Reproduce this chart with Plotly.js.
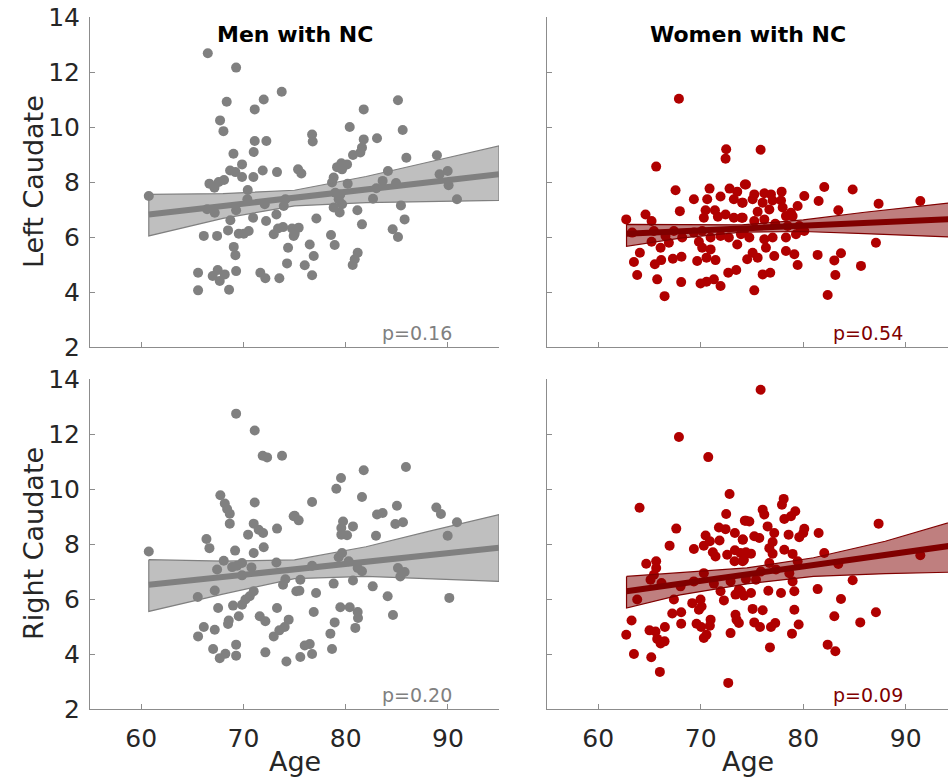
<!DOCTYPE html>
<html>
<head>
<meta charset="utf-8">
<script src="https://cdn.plot.ly/plotly-3.0.1.min.js"></script>
<style>
html, body { margin: 0; padding: 0; overflow: hidden; background: #fff; }
#chart { width: 948px; height: 778px; }
</style>
</head>
<body>
<div id="chart"></div>
<script>
// ---------- Data ----------
const panelTitles = ["Men with NC", "Women with NC"];
const rowLabels = ["Left Caudate", "Right Caudate"];
const xAxisLabel = "Age";
const pValues = ["p=0.16", "p=0.54", "p=0.20", "p=0.09"];
const xTicks = [60, 70, 80, 90];
const yTicks = [2, 4, 6, 8, 10, 12, 14];

// Men, Left Caudate
const menLeftAge = [60.75,66.52,69.29,68.37,71.99,71.11,73.75,67.72,68.05,71.11,72.25,69.03,71.01,69.87,68.70,69.22,69.87,68.11,67.59,66.68,67.17,70.98,71.89,73.29,70.43,70.39,66.45,67.20,69.29,68.73,70.95,72.09,73.23,73.95,74.11,66.13,67.43,68.50,69.55,70.04,70.52,72.22,72.97,73.39,73.88,74.76,74.92,69.06,69.22,74.37,74.27,65.57,67.00,67.49,68.18,67.69,69.29,71.66,72.15,73.52,65.57,68.60,
85.12,81.77,85.58,80.40,76.72,76.78,83.07,81.77,81.60,81.44,80.72,85.94,88.93,80.14,79.58,79.16,79.65,75.35,75.67,84.14,78.83,78.67,80.20,83.62,84.93,89.19,89.98,90.07,90.89,83.00,82.68,78.99,79.48,79.32,78.83,79.65,79.42,85.41,81.15,81.60,85.77,77.14,75.41,75.02,84.60,85.12,78.57,78.93,76.49,76.88,76.00,76.72,81.18,80.89,80.69];
const menLeftVal = [7.49,12.68,12.16,10.92,11.00,10.64,11.28,10.24,9.85,9.49,9.49,9.03,9.09,8.64,8.42,8.36,8.18,8.07,8.00,7.94,7.79,8.18,8.42,8.36,7.71,7.37,7.01,6.88,6.97,6.61,6.70,7.19,6.82,7.13,7.37,6.04,6.04,6.24,6.12,6.12,6.22,6.58,6.10,6.31,6.36,6.31,6.04,5.64,5.34,5.61,5.04,4.70,4.58,4.80,4.64,4.40,4.76,4.70,4.50,4.50,4.06,4.08,
10.97,10.64,9.89,10.00,9.73,9.47,9.59,9.55,9.25,9.07,8.98,8.88,8.97,8.64,8.68,8.54,8.46,8.46,8.31,8.40,8.16,7.98,7.94,8.04,7.96,8.28,8.40,7.88,7.37,7.77,7.39,7.61,7.55,7.37,7.07,7.19,6.89,7.15,6.97,6.46,6.64,6.67,6.34,6.12,6.28,6.00,6.07,5.71,5.73,5.31,4.97,4.61,5.43,5.19,4.98];

// Women, Left Caudate
const womenLeftAge = [67.87,72.48,72.42,65.65,67.54,70.86,69.33,70.63,71.93,72.81,73.56,74.30,73.23,74.04,64.61,62.73,65.20,67.96,70.47,70.30,71.38,71.67,72.42,73.23,73.98,63.31,65.43,66.56,67.38,68.19,69.33,70.14,70.96,71.93,72.74,73.56,74.21,65.20,66.08,66.89,69.82,70.14,70.96,64.06,63.48,65.52,66.14,67.28,68.12,69.65,70.56,71.44,63.80,65.75,68.09,69.98,70.56,71.28,71.93,72.68,73.46,66.47,74.53,
75.84,74.41,75.22,76.20,76.85,77.89,74.09,75.06,76.04,77.01,77.83,75.55,76.69,77.99,79.45,80.10,82.05,84.82,81.50,87.35,91.42,83.42,74.09,75.22,76.20,77.27,78.31,78.96,78.48,79.61,80.10,73.92,74.74,76.20,77.01,78.31,79.29,75.06,75.55,76.36,77.17,78.31,79.13,79.45,81.40,83.03,83.68,87.09,85.63,76.04,76.78,83.13,75.22,82.38,78.80];
const womenLeftVal = [11.03,9.19,8.85,8.56,7.70,7.76,7.37,7.37,7.47,7.76,7.65,7.91,7.37,7.25,6.82,6.64,6.58,6.94,6.97,6.70,6.97,6.74,6.82,6.70,6.70,6.16,6.22,6.04,6.22,5.98,6.16,6.22,5.98,6.04,5.98,5.73,6.22,5.83,5.61,5.79,5.83,5.61,5.55,5.43,5.09,5.01,5.16,5.21,5.28,5.13,5.25,5.16,4.62,4.46,4.36,4.31,4.37,4.46,4.22,4.70,4.80,3.85,5.19,
9.17,7.91,7.55,7.59,7.55,7.65,7.25,7.37,7.25,7.33,7.33,6.92,7.00,7.07,7.13,7.49,7.82,7.73,7.31,7.21,7.31,6.97,6.70,6.58,6.64,6.48,6.76,6.76,6.40,6.40,6.22,6.10,5.98,5.92,5.98,5.98,6.10,5.43,5.25,5.61,5.31,5.49,5.37,4.98,5.35,5.15,5.41,5.79,4.95,4.64,4.70,4.62,4.06,3.89,6.88];

// Men, Right Caudate
const menRightAge = [60.75,69.29,71.11,71.89,72.32,73.78,67.75,68.18,68.41,68.67,68.67,71.11,74.92,71.01,71.50,71.93,73.29,70.46,66.39,66.68,69.19,71.01,71.99,68.08,67.43,68.90,69.38,69.87,70.79,69.87,73.23,74.11,73.88,75.18,65.54,67.20,71.01,70.62,70.20,69.87,68.99,67.53,69.55,68.57,68.50,73.29,71.60,72.15,74.43,74.04,73.52,72.97,66.13,67.20,65.57,69.29,67.04,68.24,67.69,69.29,72.15,74.21,
85.90,81.77,79.55,79.09,81.60,76.72,75.02,75.41,85.02,88.87,89.32,83.07,83.62,84.86,85.61,90.89,79.75,80.72,79.58,79.58,80.14,82.97,89.98,79.65,79.32,80.30,76.72,81.18,81.60,85.12,85.77,85.35,75.57,78.83,80.72,82.65,75.48,77.11,84.11,90.14,76.88,79.48,80.40,81.18,81.21,84.63,78.93,80.95,78.51,76.00,76.49,75.57,76.72,78.67];
const menRightVal = [7.73,12.74,12.13,11.21,11.15,11.21,9.77,9.47,9.27,9.10,8.74,9.51,9.01,8.74,8.52,8.40,8.56,8.34,8.18,7.85,7.76,7.67,7.88,7.39,7.07,7.16,7.21,7.31,7.15,6.86,7.33,6.72,6.52,6.28,6.07,6.31,6.28,6.10,5.98,5.79,5.76,5.67,5.37,5.22,5.09,5.67,5.37,5.19,5.25,4.98,4.86,4.64,4.98,4.88,4.64,4.34,4.18,4.01,3.85,3.94,4.06,3.73,
10.80,10.68,10.40,10.01,9.71,9.53,9.03,8.86,9.39,9.33,9.09,9.07,9.13,8.73,8.79,8.79,8.82,8.64,8.58,8.34,8.32,8.30,8.30,7.67,7.52,7.37,7.21,7.13,7.01,7.13,6.98,6.82,6.70,6.56,6.67,6.46,6.30,6.22,6.10,6.04,5.53,5.70,5.70,5.53,5.31,5.42,5.15,4.95,4.74,4.31,4.36,3.89,4.00,4.18];

// Women, Right Caudate
const womenRightAge = [67.87,70.73,72.81,64.03,72.48,67.61,74.30,71.77,72.42,73.33,70.47,70.89,70.30,71.83,74.11,66.96,69.33,71.18,71.44,72.58,73.33,73.88,73.30,74.21,64.68,65.65,65.65,65.43,65.10,66.17,70.30,68.03,69.33,71.28,71.93,72.91,73.72,73.39,74.21,63.80,67.38,72.26,69.17,69.98,70.08,69.82,67.22,68.09,68.09,69.59,70.04,70.89,70.96,73.39,73.49,73.72,63.25,62.73,65.00,65.59,65.75,66.08,66.47,66.50,70.30,70.56,72.91,63.48,65.17,66.01,72.68,
75.84,78.09,77.92,76.04,76.20,79.22,78.80,78.15,74.41,74.74,76.52,77.17,80.10,80.00,79.61,78.57,81.50,87.35,75.22,75.71,74.09,77.01,76.69,78.15,74.41,74.90,77.01,78.96,82.05,91.42,79.45,76.69,83.42,74.09,75.87,77.34,78.64,74.41,75.39,78.96,84.82,73.92,74.90,76.59,77.83,79.13,81.40,83.68,75.06,76.04,79.13,87.09,83.03,75.22,75.78,76.85,77.27,79.55,78.90,85.56,82.38,83.13,76.75];
const womenRightVal = [11.89,11.16,9.82,9.32,9.09,8.56,8.85,8.60,8.54,8.40,8.31,8.10,7.94,8.13,8.16,7.94,7.82,7.70,7.55,7.61,7.77,7.67,7.37,7.43,7.28,7.37,7.13,6.88,6.70,6.58,6.94,6.46,6.64,6.56,6.28,6.64,6.34,6.16,6.12,5.98,5.98,5.95,5.85,5.98,5.73,5.61,5.47,5.52,5.10,5.10,4.98,5.03,5.25,5.43,5.25,5.13,5.22,4.70,4.86,4.82,4.55,4.38,4.46,4.98,4.58,4.70,4.76,4.00,3.88,3.35,2.95,
13.61,9.64,9.43,9.25,9.07,9.19,9.01,8.91,8.85,8.82,8.64,8.40,8.55,8.40,8.25,8.34,8.40,8.74,8.28,8.22,8.16,8.07,7.85,7.79,7.70,7.65,7.65,7.64,7.67,7.59,7.37,7.31,7.27,7.37,7.00,7.07,6.94,6.72,6.70,6.64,6.68,6.28,6.22,6.30,6.22,6.28,6.36,6.00,5.64,5.59,5.61,5.52,5.37,5.15,4.98,4.98,5.13,5.07,4.74,5.15,4.34,4.10,4.24];

// Regression fit lines (end points) and confidence bands
const menLeftFitX = [60.75, 95], menLeftFitY = [6.82, 8.28];
const menLeftBandX = [60.75, 68, 75, 82, 89, 95];
const menLeftBandUp = [7.55, 7.58, 7.70, 8.20, 8.80, 9.31];
const menLeftBandLo = [6.04, 6.68, 7.13, 7.25, 7.30, 7.33];

const womenLeftFitX = [62.76, 95], womenLeftFitY = [6.12, 6.66];
const womenLeftBandX = [62.76, 68, 74, 80, 86, 95];
const womenLeftBandUp = [6.46, 6.44, 6.44, 6.62, 6.90, 7.27];
const womenLeftBandLo = [5.66, 5.96, 6.18, 6.20, 6.12, 5.99];

const menRightFitX = [60.75, 95], menRightFitY = [6.52, 7.86];
const menRightBandX = [60.75, 68, 75, 82, 88, 95];
const menRightBandUp = [7.43, 7.38, 7.42, 7.90, 8.45, 9.07];
const menRightBandLo = [5.55, 6.18, 6.74, 6.82, 6.75, 6.64];

const womenRightFitX = [62.76, 95], womenRightFitY = [6.28, 7.97];
const womenRightBandX = [62.76, 68, 74.5, 81, 88, 95];
const womenRightBandUp = [6.82, 6.95, 7.13, 7.50, 8.10, 8.86];
const womenRightBandLo = [5.67, 6.15, 6.55, 6.82, 6.92, 6.98];

// ---------- Styling ----------
const FONT = "DejaVu Sans, Liberation Sans, Arial, sans-serif";
const GRAY = "rgb(128,128,128)";
const GRAY_FILL = "rgba(128,128,128,0.5)";
const RED_MARK = "rgb(176,0,0)";
const RED_DARK = "rgb(128,0,0)";
const RED_FILL = "rgba(128,0,0,0.5)";
const AXIS_COLOR = "rgb(140,140,140)";
const TEXT_COLOR = "#262626";

const panels = [
  {xa: "x",  ya: "y",  age: menLeftAge,    val: menLeftVal,    fx: menLeftFitX,    fy: menLeftFitY,    bx: menLeftBandX,    bu: menLeftBandUp,    bl: menLeftBandLo,    mc: GRAY,     lc: GRAY,     fc: GRAY_FILL},
  {xa: "x2", ya: "y2", age: womenLeftAge,  val: womenLeftVal,  fx: womenLeftFitX,  fy: womenLeftFitY,  bx: womenLeftBandX,  bu: womenLeftBandUp,  bl: womenLeftBandLo,  mc: RED_MARK, lc: RED_DARK, fc: RED_FILL},
  {xa: "x3", ya: "y3", age: menRightAge,   val: menRightVal,   fx: menRightFitX,   fy: menRightFitY,   bx: menRightBandX,   bu: menRightBandUp,   bl: menRightBandLo,   mc: GRAY,     lc: GRAY,     fc: GRAY_FILL},
  {xa: "x4", ya: "y4", age: womenRightAge, val: womenRightVal, fx: womenRightFitX, fy: womenRightFitY, bx: womenRightBandX, bu: womenRightBandUp, bl: womenRightBandLo, mc: RED_MARK, lc: RED_DARK, fc: RED_FILL}
];

const traces = [];
panels.forEach(p => {
  traces.push({
    type: "scatter", mode: "markers", x: p.age, y: p.val, xaxis: p.xa, yaxis: p.ya,
    marker: {color: p.mc, size: 10, line: {width: 0}}, hoverinfo: "x+y", showlegend: false
  });
  const polyX = p.bx.concat(p.bx.slice().reverse());
  const polyY = p.bu.concat(p.bl.slice().reverse());
  polyX.push(p.bx[0]); polyY.push(p.bu[0]);
  traces.push({
    type: "scatter", mode: "lines", x: polyX, y: polyY, xaxis: p.xa, yaxis: p.ya,
    fill: "toself", fillcolor: p.fc, line: {color: p.lc, width: 1.2},
    hoverinfo: "skip", showlegend: false
  });
  traces.push({
    type: "scatter", mode: "lines", x: p.fx, y: p.fy, xaxis: p.xa, yaxis: p.ya,
    line: {color: p.lc, width: 6}, hoverinfo: "skip", showlegend: false
  });
});

const W = 948, H = 778, ML = 90, MT = 17.3, MB = 68.7;
const PW = W - ML, PH = H - MT - MB;
const leftDom = [0, 409 / PW];
const rightDom = [457 / PW, 1];
const topDom = [(PH - 330) / PH, 1];
const botDom = [0, 330 / PH];

function xAxis(domain, anchor, range, showLabels) {
  return {
    domain: domain, anchor: anchor, range: range, fixedrange: true,
    tickmode: "array", tickvals: xTicks, ticktext: xTicks.map(String),
    ticks: "inside", ticklen: 5, tickwidth: 1, tickcolor: AXIS_COLOR,
    showticklabels: showLabels, ticklabelstandoff: 7,
    tickfont: {family: FONT, size: 25, color: TEXT_COLOR},
    showline: true, linecolor: AXIS_COLOR, linewidth: 1,
    showgrid: false, zeroline: false
  };
}
function yAxis(domain, anchor, showLabels) {
  return {
    domain: domain, anchor: anchor, range: [2, 14], fixedrange: true,
    tickmode: "array", tickvals: yTicks, ticktext: yTicks.map(String),
    ticks: "inside", ticklen: 5, tickwidth: 1, tickcolor: AXIS_COLOR,
    showticklabels: showLabels, ticklabelstandoff: 4,
    tickfont: {family: FONT, size: 25, color: TEXT_COLOR},
    showline: true, linecolor: AXIS_COLOR, linewidth: 1,
    showgrid: false, zeroline: false
  };
}

const annotations = [];
// Column titles
[["x", "y"], ["x2", "y2"]].forEach((ax, i) => {
  annotations.push({
    text: "<b>" + panelTitles[i] + "</b>", xref: ax[0] + " domain", yref: ax[1] + " domain",
    x: 0.5, y: 0.946, xanchor: "center", yanchor: "middle", showarrow: false,
    font: {family: FONT, size: 22, color: "#000"}
  });
});
// p-values
const pAxes = [["x", "y"], ["x2", "y2"], ["x3", "y3"], ["x4", "y4"]];
const pColors = [GRAY, RED_DARK, GRAY, RED_DARK];
pAxes.forEach((ax, i) => {
  annotations.push({
    text: pValues[i], xref: ax[0] + " domain", yref: ax[1] + " domain",
    x: 0.80, y: 0.043, xanchor: "center", yanchor: "middle", showarrow: false,
    font: {family: FONT, size: 19, color: pColors[i]}
  });
});
// Row labels (y titles)
[["y"], ["y3"]].forEach((ax, i) => {
  annotations.push({
    text: rowLabels[i], xref: "paper", yref: ax[0] + " domain",
    x: (33 - ML) / PW, y: 0.5, xanchor: "center", yanchor: "middle", textangle: -90,
    showarrow: false, font: {family: FONT, size: 27, color: TEXT_COLOR}
  });
});
// x titles
["x3", "x4"].forEach(ax => {
  annotations.push({
    text: xAxisLabel, xref: ax + " domain", yref: "paper",
    x: 0.5, y: (709.3 - 762) / PH, xanchor: "center", yanchor: "middle",
    showarrow: false, font: {family: FONT, size: 27, color: TEXT_COLOR}
  });
});

const layout = {
  width: W, height: H,
  margin: {l: ML, r: 0, t: MT, b: MB, pad: 0},
  paper_bgcolor: "#fff", plot_bgcolor: "#fff",
  showlegend: false,
  xaxis: xAxis(leftDom, "y", [55, 95], false),
  xaxis2: xAxis(rightDom, "y2", [55, 94.12], false),
  xaxis3: xAxis(leftDom, "y3", [55, 95], true),
  xaxis4: xAxis(rightDom, "y4", [55, 94.12], true),
  yaxis: yAxis(topDom, "x", true),
  yaxis2: yAxis(topDom, "x2", false),
  yaxis3: yAxis(botDom, "x3", true),
  yaxis4: yAxis(botDom, "x4", false),
  annotations: annotations
};

Plotly.newPlot("chart", traces, layout, {displayModeBar: false, staticPlot: true});
</script>
</body>
</html>
